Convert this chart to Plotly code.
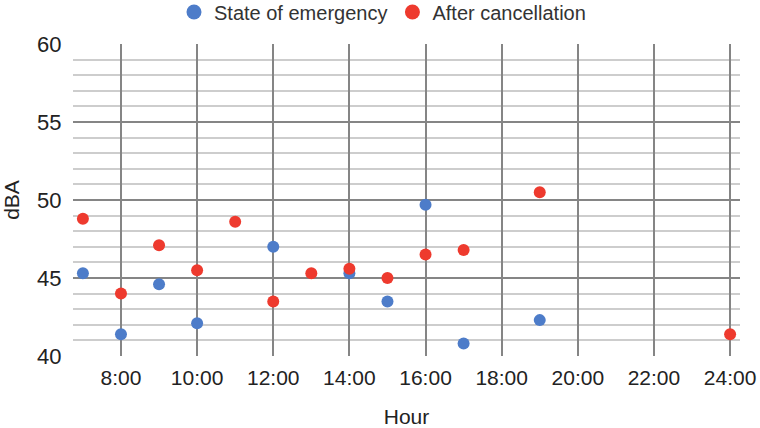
import plotly.graph_objects as go

hours_soe = [7, 8, 9, 10, 12, 14, 15, 16, 17, 19]
dba_soe = [45.3, 41.4, 44.6, 42.1, 47.0, 45.3, 43.5, 49.7, 40.8, 42.3]

hours_after = [7, 8, 9, 10, 11, 12, 13, 14, 15, 16, 17, 19, 24]
dba_after = [48.8, 44.0, 47.1, 45.5, 48.6, 43.5, 45.3, 45.6, 45.0, 46.5, 46.8, 50.5, 41.4]

x_tickvals = [8, 10, 12, 14, 16, 18, 20, 22, 24]
x_ticktext = ["8:00", "10:00", "12:00", "14:00", "16:00", "18:00", "20:00", "22:00", "24:00"]

c_soe = "#4d7cc9"
c_after = "#ee3a2e"

fig = go.Figure()
fig.add_trace(go.Scatter(x=hours_soe, y=dba_soe, mode="markers", name="State of emergency",
                         marker=dict(color=c_soe, size=12), showlegend=False,
                         legendgroup="soe"))
fig.add_trace(go.Scatter(x=hours_after, y=dba_after, mode="markers", name="After cancellation",
                         marker=dict(color=c_after, size=12), showlegend=False,
                         legendgroup="after"))
# legend entries with the larger legend symbols of the reference
fig.add_trace(go.Scatter(x=[None], y=[None], mode="markers", name="State of emergency",
                         marker=dict(color=c_soe, size=15), legendgroup="soe"))
fig.add_trace(go.Scatter(x=[None], y=[None], mode="markers", name="After cancellation",
                         marker=dict(color=c_after, size=15), legendgroup="after"))

font_main = "Arial, Liberation Sans, sans-serif"
fig.update_layout(
    width=760, height=428,
    margin=dict(l=73, r=20, t=44, b=72, autoexpand=False),
    paper_bgcolor="white", plot_bgcolor="white",
    font=dict(family=font_main, size=22, color="#222222"),
    showlegend=True,
    legend=dict(orientation="h", x=0.464, xanchor="center", y=0.972, yref="container",
                yanchor="middle",
                font=dict(family=font_main, size=20, color="#333333"),
                itemclick=False, bgcolor="rgba(0,0,0,0)"),
    xaxis=dict(range=[6.74, 24.26], tickvals=x_tickvals, ticktext=x_ticktext,
               showgrid=True, gridcolor="#858585", gridwidth=1.5, zeroline=False,
               ticks="outside", ticklen=3, tickcolor="rgba(0,0,0,0)", automargin=True,
               title=dict(text="Hour", standoff=23, font=dict(size=21)),
               showline=False, tickfont=dict(size=21)),
    yaxis=dict(range=[40, 60], dtick=5, tick0=40, automargin=True,
               showgrid=True, gridcolor="#858585", gridwidth=1.5, zeroline=False,
               ticks="outside", ticklen=6, tickcolor="rgba(0,0,0,0)",
               minor=dict(dtick=1, showgrid=True, gridcolor="#cdcdcd", gridwidth=1.5),
               title=dict(text="dBA", standoff=14, font=dict(size=21)),
               tickfont=dict(size=22)),
)
fig.write_html("out.html", post_script="document.body.style.margin='0';",
               config={"displayModeBar": False})
